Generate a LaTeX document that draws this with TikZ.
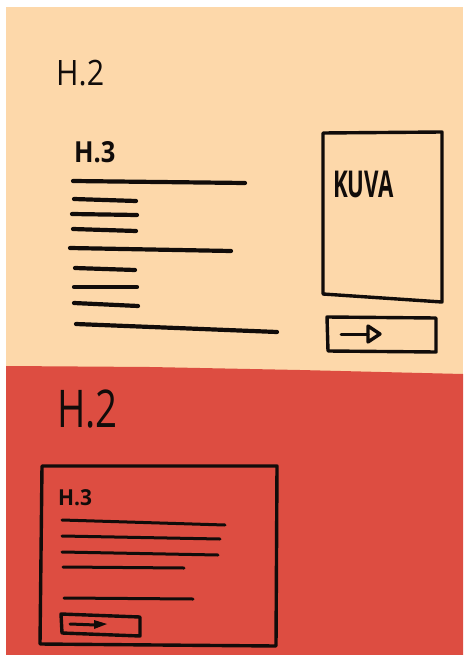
\documentclass[tikz,border=0pt]{standalone}
\usepackage{fontspec}
\setmainfont{Open Sans}
\definecolor{peach}{RGB}{253,216,170}
\definecolor{brick}{RGB}{221,77,65}
\definecolor{ink}{RGB}{17,12,10}
\begin{document}
\begin{tikzpicture}[x=1pt,y=-1pt,
  txtline/.style={draw=ink,line width=4.2pt,line cap=round},
  thinline/.style={draw=ink,line width=3pt,line cap=round},
  frame/.style={draw=ink,line width=3.4pt,line join=round},
  lbl/.style={inner sep=0pt,anchor=base west,text=ink}]
\useasboundingbox (0,0) rectangle (463,655);
\fill[white] (0,0) rectangle (463,655);
% backgrounds
\fill[peach] (6,7) rectangle (463,380);
\fill[brick] (6,366) -- (150,367) -- (300,370) -- (463,374) -- (463,655) -- (6,655) -- cycle;

% ---------- top section ----------
\node[lbl] (h2a) at (56,86) {\fontsize{35}{35}\selectfont\scalebox{0.87}[1]{H.2}};
\node[lbl] (h3a) at (74,163) {\fontsize{29}{29}\selectfont\bfseries\scalebox{0.88}[1]{H.3}};
\draw[txtline] (73,181) -- (245,183);
\draw[txtline] (74,199) -- (136,201);
\draw[txtline] (72,214) -- (137,215);
\draw[txtline] (73,229) -- (136,231);
\draw[txtline] (70,248) -- (231,251);
\draw[txtline] (75,268) -- (135,270);
\draw[txtline] (74,287) -- (137,287);
\draw[txtline] (74,303) -- (138,306);
\draw[txtline] (76,324) -- (277,332);

% image box
\draw[frame] (323,133) -- (442,132) -- (442,302) -- (323,294) -- cycle;
\node[lbl] (kuva) at (333,197) {\fontsize{37}{37}\selectfont\bfseries\scalebox{0.6}[1]{KUVA}};
% button
\draw[frame] (327,317) -- (436,318) -- (436,352) -- (328,351) -- cycle;
\coordinate (a1s) at (341,334);
\coordinate (a1b) at (368,334);
\draw[thinline] (a1s) -- (a1b);
\draw[frame] (368,326) -- (380,334) -- (368,342) -- cycle;

% ---------- bottom section ----------
\node[lbl] (h2b) at (57,427) {\fontsize{52}{52}\selectfont\scalebox{0.74}[1]{H.2}};
\draw[frame] (42,466) -- (277,466) -- (276,646) -- (40,644) -- cycle;
\node[lbl] (h3b) at (58,505) {\fontsize{22}{22}\selectfont\bfseries\scalebox{0.95}[1]{H.3}};
\draw[thinline] (62,520) -- (225,525);
\draw[thinline] (62,536) -- (220,539);
\draw[thinline] (62,552) -- (218,555);
\draw[thinline] (63,567) -- (184,568);
\draw[thinline] (64,598) -- (193,599);
% small button
\draw[frame] (61,614) -- (140,617) -- (140,636) -- (62,633) -- cycle;
\coordinate (a2s) at (70,624);
\coordinate (a2b) at (96,625);
\draw[thinline] (a2s) -- (a2b);
\fill[ink] (94,620) -- (107,624) -- (94,629) -- cycle;
\end{tikzpicture}
\end{document}
